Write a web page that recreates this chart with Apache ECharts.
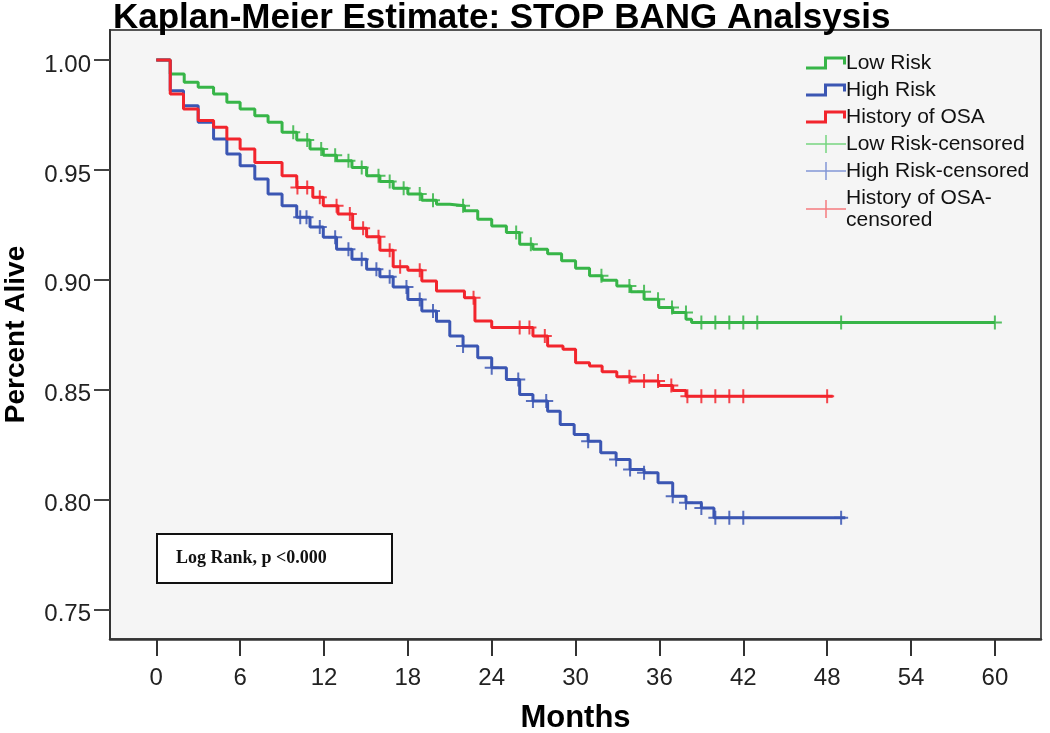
<!DOCTYPE html>
<html>
<head>
<meta charset="utf-8">
<script src="https://cdn.jsdelivr.net/npm/echarts@6/dist/echarts.min.js"></script>
<style>
  html, body { margin: 0; padding: 0; background: #ffffff; }
  #chart { width: 1050px; height: 733px; }
</style>
</head>
<body>
<div id="chart"></div>
<script>
// ---------- data ----------
const chartTitle = 'Kaplan-Meier Estimate: STOP BANG Analsysis';
const xTicks = [0, 6, 12, 18, 24, 30, 36, 42, 48, 54, 60];
const yTicks = [0.75, 0.80, 0.85, 0.90, 0.95, 1.00];
const seriesNames = ['Low Risk', 'High Risk', 'History of OSA',
  'Low Risk-censored', 'High Risk-censored', 'History of OSA-censored'];

// Low Risk survival steps (months, survival after step)
const greenT = [0, 1, 2, 3, 4.1, 5.05, 6, 7.05, 8, 9, 10.05, 11, 11.95, 12.9, 14, 15.05, 16, 16.95, 18, 19, 20.05, 21, 22.05, 23, 24, 25.05, 26, 26.95, 28, 29, 30, 31, 31.9, 32.95, 33.95, 34.9, 35.95, 36.95, 37.9, 38.3, 60];
const greenV = [1.0, 0.9936, 0.9898, 0.9876, 0.9845, 0.9807, 0.9777, 0.9746, 0.9716, 0.9671, 0.9636, 0.9595, 0.9567, 0.9541, 0.9511, 0.9473, 0.9447, 0.9417, 0.9390, 0.9362, 0.9344, 0.9337, 0.9314, 0.9276, 0.9245, 0.9215, 0.9162, 0.9139, 0.9119, 0.9087, 0.9053, 0.9019, 0.8998, 0.8972, 0.8946, 0.8912, 0.8874, 0.8851, 0.8821, 0.8806, 0.8806];

// High Risk
const blueT = [0, 1, 1.95, 3, 4.1, 5.05, 6, 7.05, 8, 9, 10.05, 11, 11.95, 12.9, 14, 15.05, 16, 16.95, 18, 19, 20.05, 21, 21.95, 23, 24, 25.05, 26, 26.95, 28, 28.9, 29.9, 30.9, 31.8, 32.9, 33.9, 34.9, 35.9, 36.95, 37.9, 39, 39.9, 49.3];
const blueV = [1.0, 0.9860, 0.9792, 0.9716, 0.9640, 0.9572, 0.9519, 0.9458, 0.9390, 0.9337, 0.9285, 0.9240, 0.9194, 0.9139, 0.9094, 0.9048, 0.9014, 0.8968, 0.8911, 0.8858, 0.8812, 0.8745, 0.8699, 0.8646, 0.8600, 0.8547, 0.8479, 0.8449, 0.8403, 0.8342, 0.8297, 0.8266, 0.8214, 0.8183, 0.8138, 0.8123, 0.8077, 0.8016, 0.7986, 0.7963, 0.7918, 0.7918];

// History of OSA
const redT = [0, 1, 1.95, 3, 4.1, 5.05, 6, 7.05, 9, 10.05, 11.2, 11.95, 13, 14.05, 15.05, 16, 16.95, 18, 19, 20.05, 22.05, 22.8, 24, 26.95, 28, 29.1, 30, 31, 31.9, 32.95, 33.95, 35.95, 36.95, 37.9, 48.4];
const redV = [1.0, 0.9845, 0.9777, 0.9724, 0.9694, 0.9640, 0.9595, 0.9534, 0.9473, 0.9420, 0.9376, 0.9337, 0.9299, 0.9235, 0.9196, 0.9135, 0.9060, 0.9044, 0.8995, 0.8949, 0.8919, 0.8813, 0.8783, 0.8745, 0.8699, 0.8684, 0.8623, 0.8608, 0.8582, 0.8559, 0.8540, 0.8520, 0.8497, 0.8471, 0.8471];

// censored observations (month, survival)
const greenCensT = [9.8, 10.8, 11.8, 12.8, 13.75, 14.7, 15.9, 16.7, 17.7, 18.85, 19.8, 21.95, 25.75, 26.8, 31.85, 33.85, 34.9, 35.9, 36.9, 37.9, 39, 40, 41, 42, 43, 49, 60];
const greenCensV = [0.9671, 0.9636, 0.9595, 0.9567, 0.9541, 0.9511, 0.9473, 0.9447, 0.9417, 0.9390, 0.9362, 0.9337, 0.9215, 0.9162, 0.9019, 0.8972, 0.8946, 0.8912, 0.8874, 0.8851, 0.8806, 0.8806, 0.8806, 0.8806, 0.8806, 0.8806, 0.8806];
const blueCensT = [10.3, 10.75, 11.7, 12.8, 13.75, 14.7, 15.75, 16.7, 17.9, 18.85, 19.8, 21.95, 24.0, 25.9, 26.95, 27.9, 30.9, 32.9, 33.9, 34.9, 36.95, 37.9, 39, 40, 41, 42, 49];
const blueCensV = [0.9285, 0.9285, 0.9240, 0.9194, 0.9139, 0.9094, 0.9048, 0.9014, 0.8968, 0.8911, 0.8858, 0.8699, 0.8600, 0.8547, 0.8449, 0.8449, 0.8266, 0.8183, 0.8138, 0.8123, 0.8016, 0.7986, 0.7963, 0.7918, 0.7918, 0.7918, 0.7918];
const redCensT = [10.1, 10.8, 11.7, 12.9, 13.85, 14.8, 15.9, 16.7, 17.45, 18.85, 22.7, 26.0, 26.7, 27.8, 33.85, 34.9, 35.9, 36.85, 38, 39, 40, 41, 42, 48];
const redCensV = [0.9420, 0.9420, 0.9376, 0.9337, 0.9299, 0.9235, 0.9196, 0.9135, 0.9060, 0.9044, 0.8919, 0.8783, 0.8783, 0.8745, 0.8559, 0.8540, 0.8540, 0.8520, 0.8471, 0.8471, 0.8471, 0.8471, 0.8471, 0.8471];

const annotationText = 'Log Rank, p <0.000';

// ---------- chart ----------
const zip = (a, b) => a.map((v, i) => [v, b[i]]);
const GREEN = '#37b548', BLUE = '#3b56b3', RED = '#f2252d';
const FONT = '"Liberation Sans", Arial, Helvetica, sans-serif';
const stepIcon = 'path://M0,10H18V0H40V8H37V3H21V13H0Z';
const plusIcon = 'path://M0,8.25H19.25V0H20.75V8.25H40V9.75H20.75V18H19.25V9.75H0Z';
const censorSymbol = 'path://M0,6H6V0H8V6H14V8H8V14H6V8H0Z';

const chart = echarts.init(document.getElementById('chart'), null, { renderer: 'canvas' });

function stepSeries(name, t, v, color) {
  return {
    name, type: 'line', step: 'end', data: zip(t, v),
    showSymbol: false, symbol: 'none', silent: true,
    lineStyle: { color, width: 3 }, itemStyle: { color },
    z: 3
  };
}
function censSeries(name, t, v, color) {
  return {
    name, type: 'scatter', data: zip(t, v),
    symbol: censorSymbol, symbolSize: 14, silent: true,
    itemStyle: { color, opacity: 0.85 },
    z: 4
  };
}

const option = {
  animation: false,
  backgroundColor: '#ffffff',
  title: {
    text: chartTitle,
    left: 108, top: -4,
    textStyle: { fontFamily: FONT, fontSize: 35, fontWeight: 'bold', color: '#000' }
  },
  grid: {
    left: 110, right: 9, top: 30, bottom: 94,
    outerBoundsMode: 'none', containLabel: false,
    show: true, backgroundColor: '#f5f5f5',
    borderColor: '#555', borderWidth: 2
  },
  legend: {
    orient: 'vertical', left: 801, top: 47,
    itemWidth: 40, itemHeight: 18, itemGap: 5,
    selectedMode: false,
    textStyle: { fontFamily: FONT, fontSize: 21, color: '#111', lineHeight: 22, padding: [0, 0, 0, -5] },
    formatter: n => n === 'History of OSA-censored' ? 'History of OSA-\ncensored' : n,
    data: [
      { name: seriesNames[0], icon: stepIcon, itemStyle: { color: GREEN } },
      { name: seriesNames[1], icon: stepIcon, itemStyle: { color: BLUE } },
      { name: seriesNames[2], icon: stepIcon, itemStyle: { color: RED } },
      { name: seriesNames[3], icon: plusIcon, itemStyle: { color: '#5fcf6b' } },
      { name: seriesNames[4], icon: plusIcon, itemStyle: { color: '#6f86d0' } },
      { name: seriesNames[5], icon: plusIcon, itemStyle: { color: '#f5646a' } }
    ]
  },
  xAxis: {
    type: 'value', min: -3.31, max: 63.3,
    name: 'Months', nameLocation: 'middle', nameGap: 64,
    nameTextStyle: { fontFamily: FONT, fontSize: 31, fontWeight: 'bold', color: '#000' },
    axisLine: { show: true, onZero: false, lineStyle: { color: '#333', width: 2.5 } },
    axisTick: { show: true, length: 17, customValues: xTicks, lineStyle: { color: '#333', width: 2 } },
    axisLabel: { customValues: xTicks, margin: 27, fontFamily: FONT, fontSize: 24, color: '#222' },
    splitLine: { show: false }
  },
  yAxis: {
    type: 'value', min: 0.7367, max: 1.0136,
    name: 'Percent Alive', nameLocation: 'middle', nameGap: 80, nameRotate: 90,
    nameTextStyle: { fontFamily: FONT, fontSize: 28, fontWeight: 'bold', color: '#000' },
    axisLine: { show: true, onZero: false, lineStyle: { color: '#333', width: 2 } },
    axisTick: { show: true, length: 16, customValues: yTicks, lineStyle: { color: '#444', width: 2 } },
    axisLabel: {
      customValues: yTicks, margin: 19, fontFamily: FONT, fontSize: 24, color: '#222',
      formatter: v => '{a|' + v.toFixed(2) + '}',
      rich: { a: { fontFamily: FONT, fontSize: 24, color: '#222', padding: [10, 0, 0, 0] } }
    },
    splitLine: { show: false }
  },
  series: [
    stepSeries(seriesNames[0], greenT, greenV, GREEN),
    stepSeries(seriesNames[1], blueT, blueV, BLUE),
    stepSeries(seriesNames[2], redT, redV, RED),
    censSeries(seriesNames[3], greenCensT, greenCensV, GREEN),
    censSeries(seriesNames[4], blueCensT, blueCensV, BLUE),
    censSeries(seriesNames[5], redCensT, redCensV, RED)
  ],
  graphic: [
    {
      type: 'group', left: 156, top: 533, z: 10,
      children: [
        { type: 'rect', shape: { x: 0, y: 0, width: 235, height: 49 },
          style: { fill: '#ffffff', stroke: '#111', lineWidth: 2 } },
        { type: 'text', x: 19, y: 24.5,
          style: { text: annotationText, fill: '#111', font: 'bold 18px "Liberation Serif", "Times New Roman", serif',
                   verticalAlign: 'middle', align: 'left' } }
      ]
    }
  ]
};
chart.setOption(option);
</script>
</body>
</html>
